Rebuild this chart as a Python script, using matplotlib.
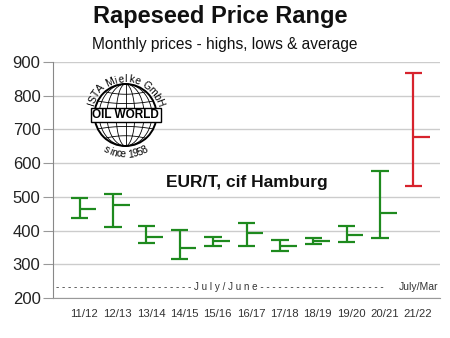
import matplotlib
matplotlib.use('Agg')
import matplotlib.pyplot as plt
import matplotlib.transforms as mtrans
import numpy as np
from matplotlib.patches import Circle, Rectangle

plt.rcParams['font.family'] = ['Liberation Sans', 'DejaVu Sans']

seasons = ['11/12', '12/13', '13/14', '14/15', '15/16', '16/17',
           '17/18', '18/19', '19/20', '20/21', '21/22']
highs = [498, 508, 415, 402, 382, 423, 372, 377, 415, 578, 866]
lows = [438, 410, 362, 317, 354, 354, 339, 359, 367, 377, 531]
avgs = [463, 475, 382, 349, 369, 394, 354, 369, 386, 451, 677]
colors = ['#1e8a1e'] * 10 + ['#d7232d']

fig = plt.figure(figsize=(4.5, 3.38), dpi=100)
ax = fig.add_axes([53/450, 1-298/338, 387/450, 236/338])

x = np.arange(len(seasons))
for i in x:
    c = colors[i]
    ax.vlines(i, lows[i], highs[i], color=c, lw=1.6)
    ax.hlines([lows[i], highs[i]], i-0.26, i+0.26, color=c, lw=1.6)
    ax.hlines(avgs[i], i, i+0.5, color=c, lw=1.6)

ax.set_xlim(-0.8, 10.8)
ax.set_ylim(200, 900)
ax.set_yticks(range(200, 901, 100))
ax.set_xticks(x)
ax.set_xticklabels(seasons)
ax.grid(axis='y', color='#cccccc', lw=1)
ax.set_axisbelow(True)
for s in ['top', 'right']:
    ax.spines[s].set_visible(False)
ax.spines['left'].set_color('#888888')
ax.spines['bottom'].set_color('#999999')
ax.tick_params(axis='y', length=7, color='#999999', labelsize=12,
               labelcolor='#222222', pad=2)
ax.tick_params(axis='x', length=0, labelsize=8.2, labelcolor='#333333', pad=8)
shift = mtrans.ScaledTranslation(0.045, 0, fig.dpi_scale_trans)
for lab in ax.get_xticklabels():
    lab.set_transform(lab.get_transform() + shift)

ax.text(5.0, 544, 'EUR/T, cif Hamburg', fontsize=12.5, fontweight='bold',
        ha='center', va='center', color='#111111')

dash_l = '- ' * 23
dash_r = ' -' * 21
ax.text(-0.7, 233, dash_l + 'J u l y / J u n e' + dash_r, fontsize=7.1,
        ha='left', va='center', color='#333333')
ax.text(10.75, 233, 'July/Mar', fontsize=7.5, ha='right', va='center',
        color='#333333')

fig.text(0.49, 1-17/338, 'Rapeseed Price Range', fontsize=17,
         fontweight='bold', ha='center', va='center', color='#111111')
fig.text(0.5, 1-44/338, 'Monthly prices - highs, lows & average', fontsize=11.2,
         ha='center', va='center', color='#111111')

# logo: globe with band and curved lettering
lg = fig.add_axes([(125.5-48)/450, 1-(115+48)/338, 96/450, 96/338])
lg.set_xlim(-48, 48)
lg.set_ylim(-48, 48)
lg.set_aspect('equal')
lg.axis('off')
R = 31
lg.add_patch(Circle((0, 0), R, facecolor='white', edgecolor='black', lw=1.4, zorder=2))
t = np.linspace(-np.pi/2, np.pi/2, 60)
for k in [0.3, 0.6, 0.85]:
    for sgn in [1, -1]:
        lg.plot(sgn*R*k*np.cos(t), R*np.sin(t), color='black', lw=0.6, zorder=3)
lg.plot([0, 0], [-R, R], color='black', lw=0.6, zorder=3)
for lat in [-0.75, -0.45, 0.45, 0.75]:
    yy = R*lat
    half = np.sqrt(R**2 - yy**2)
    xs = np.linspace(-half, half, 40)
    lg.plot(xs, yy - 2.5*np.sign(lat)*(1 - (xs/half)**2), color='black', lw=0.6, zorder=3)
lg.add_patch(Rectangle((-R-4, -7), 2*R+8, 14, facecolor='white',
                       edgecolor='black', lw=1.0, zorder=4))
lg.text(0, 0, 'OIL WORLD', fontsize=8.5, fontweight='bold', ha='center',
        va='center', zorder=5)


def arc_text(txt, r, a0, a1, top=True):
    # spread characters along the arc by rough glyph width
    w = np.array([0.45 if ch == ' ' else 0.4 if ch in 'iIl' else 0.9 if ch in 'mM' else 0.7
                  for ch in txt])
    pos = np.cumsum(w) - w/2
    angs = a0 + (a1 - a0) * pos / w.sum()
    for ch, a in zip(txt, angs):
        rad = np.deg2rad(a)
        rot = a - 90 if top else a + 90
        lg.text(r*np.cos(rad), r*np.sin(rad), ch, fontsize=7.5, rotation=rot,
                ha='center', va='center', rotation_mode='anchor', zorder=5)


arc_text('ISTA Mielke GmbH', 36, 165, 15, top=True)
arc_text('since 1958', 39.5, 238, 302, top=False)

fig.savefig('out.png', dpi=100)
